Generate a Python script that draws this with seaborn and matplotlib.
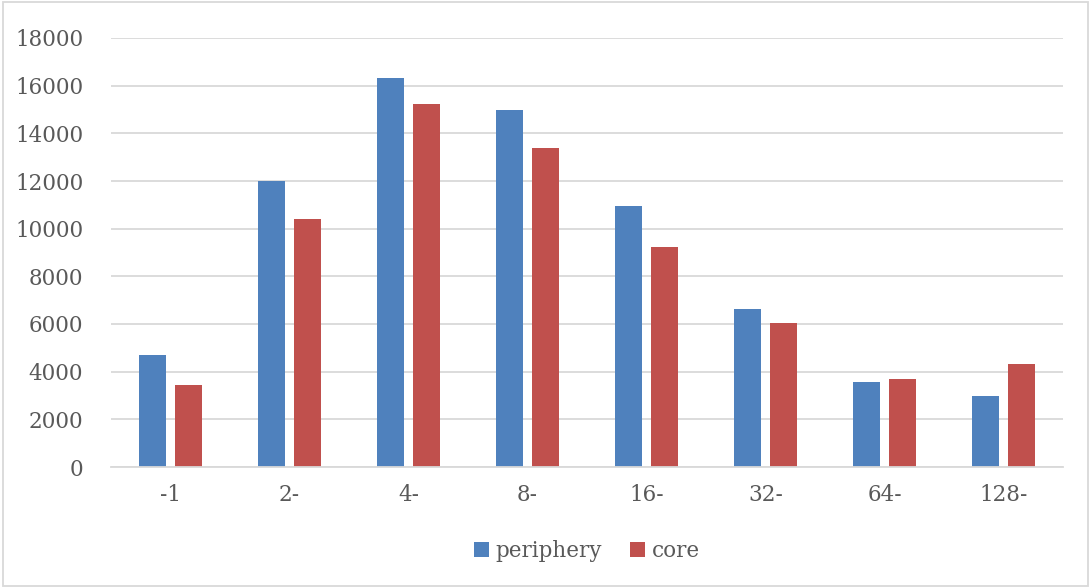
import pandas as pd
import matplotlib
matplotlib.use("Agg")
import matplotlib.pyplot as plt
import seaborn as sns

# values
bins = ['-1', '2-', '4-', '8-', '16-', '32-', '64-', '128-']
periphery = [4700, 11980, 16320, 15000, 10950, 6620, 3570, 3000]
core = [3420, 10420, 15220, 13380, 9250, 6040, 3700, 4340]

df = pd.DataFrame({
    'bin': bins * 2,
    'count': periphery + core,
    'group': ['periphery'] * len(bins) + ['core'] * len(bins),
})

sns.set_style("white")
plt.rcParams['font.family'] = ['DejaVu Serif']

fig = plt.figure(figsize=(10.91, 5.88), dpi=100)
ax = fig.add_axes([111 / 1091, 1 - 467 / 588, (1063 - 111) / 1091, (467 - 38) / 588])

sns.barplot(
    data=df, x='bin', y='count', hue='group', order=bins,
    hue_order=['periphery', 'core'],
    palette={'periphery': '#4F81BD', 'core': '#C0504D'},
    width=0.59, gap=0.23, ax=ax, legend=True, saturation=1, linewidth=0,
)

ax.set_ylim(0, 18000)
ax.set_yticks(range(0, 18001, 2000))
ax.yaxis.grid(True, color='#D9D9D9', linewidth=1.3)
ax.set_axisbelow(True)
for s in ['top', 'right', 'left']:
    ax.spines[s].set_visible(False)
ax.spines['bottom'].set_color('#D9D9D9')
ax.spines['bottom'].set_linewidth(1.3)
ax.tick_params(axis='both', length=0, labelsize=15.5, colors='#595959')
ax.tick_params(axis='y', pad=20)
ax.tick_params(axis='x', pad=12)
ax.set_xlabel('')
ax.set_ylabel('')

handles, labels = ax.get_legend_handles_labels()
ax.legend(handles, labels, loc='center', bbox_to_anchor=(0.5, (1 - 551 / 588 - (1 - 467 / 588)) / ((467 - 38) / 588)),
          ncol=2, frameon=False, fontsize=15.5, handlelength=0.7, handleheight=0.7,
          handletextpad=0.3, columnspacing=1.3, labelcolor='#595959')

# light frame around the whole chart
fig.patches.append(plt.Rectangle((0.003, 0.003), 0.994, 0.994, transform=fig.transFigure,
                                 fill=False, edgecolor='#D9D9D9', linewidth=1.3))

fig.savefig('out.png', dpi=100)
